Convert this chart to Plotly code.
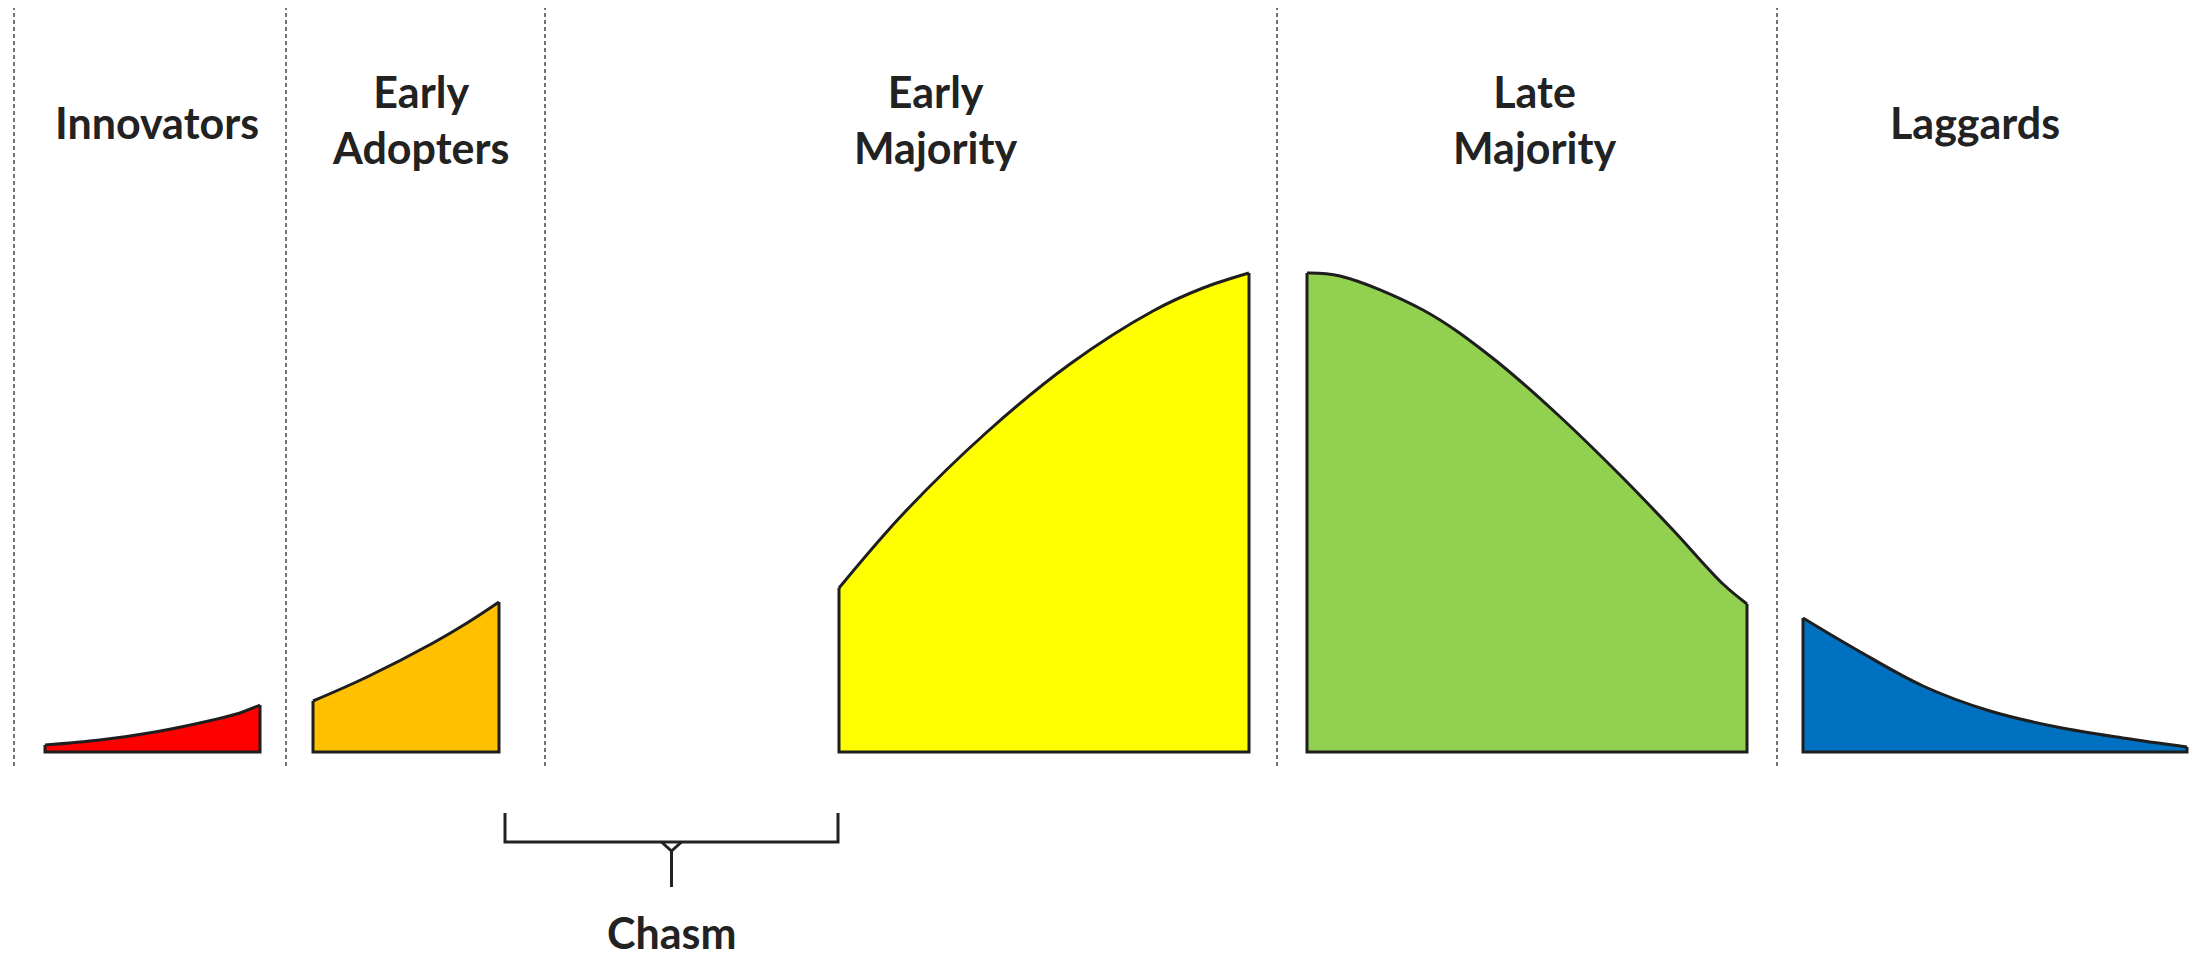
import plotly.graph_objects as go

# ---- data (x: horizontal position, y: curve height above the baseline) ----
categories = ["Innovators", "Early<br>Adopters", "Early<br>Majority", "Late<br>Majority", "Laggards"]
label_x = [157, 420, 935, 1534, 1975]
label_y = [630, 633, 633, 633, 630]

innovators_x = [45, 100, 155, 213, 240, 260]
innovators_y = [7, 12, 20, 32, 39, 47]

early_adopters_x = [313, 367, 433, 467, 499]
early_adopters_y = [51, 75, 109, 129, 150]

early_majority_x = [839, 903, 987, 1070, 1153, 1203, 1249]
early_majority_y = [164, 238, 320, 388, 441, 464, 479]

late_majority_x = [1307, 1340, 1423, 1490, 1557, 1623, 1673, 1723, 1747]
late_majority_y = [479, 476, 442, 396, 338, 274, 222, 168, 148]

laggards_x = [1803, 1857, 1923, 1990, 2057, 2123, 2187]
laggards_y = [134, 102, 66, 41, 25, 14, 5]

colors = ["#FF0000", "#FFC000", "#FFFF00", "#92D050", "#0070C0"]

divider_x = [14, 286, 545, 1277, 1777]
divider_top, divider_bottom = 744, -14

chasm_left, chasm_right = 505, 838
chasm_label = "Chasm"

W, H = 2201, 959
BASE = 752  # pixel row of the baseline

series = [
    (innovators_x, innovators_y),
    (early_adopters_x, early_adopters_y),
    (early_majority_x, early_majority_y),
    (late_majority_x, late_majority_y),
    (laggards_x, laggards_y),
]

fig = go.Figure()
OUT = "#1e1e1e"

for (xs, ys), col in zip(series, colors):
    # curved top, filled down to the baseline
    fig.add_trace(go.Scatter(
        x=xs, y=ys, mode="lines", fill="tozeroy", fillcolor=col,
        line=dict(color=OUT, width=3, shape="spline", smoothing=1),
        hoverinfo="skip", showlegend=False))
    # straight sides and bottom
    fig.add_trace(go.Scatter(
        x=[xs[-1], xs[-1], xs[0], xs[0]], y=[ys[-1], 0, 0, ys[0]],
        mode="lines", line=dict(color=OUT, width=3),
        hoverinfo="skip", showlegend=False))

# dashed dividers
for xv in divider_x:
    fig.add_shape(type="line", x0=xv, x1=xv, y0=divider_bottom, y1=divider_top,
                  line=dict(color="#737373", width=2, dash="4px,3px"), layer="below")

# chasm bracket
mid = (chasm_left + chasm_right) / 2
br_top, br_line, br_stem = -61, -90, -135
fig.add_trace(go.Scatter(
    x=[chasm_left, chasm_left, chasm_right, chasm_right],
    y=[br_top, br_line, br_line, br_top],
    mode="lines", line=dict(color="#222222", width=3),
    hoverinfo="skip", showlegend=False))
fig.add_trace(go.Scatter(
    x=[mid - 10, mid, mid + 10, None, mid, mid],
    y=[br_line, br_line - 9, br_line, None, br_line - 9, br_stem],
    mode="lines", line=dict(color="#222222", width=3),
    hoverinfo="skip", showlegend=False))

FONT = dict(family="Lato, 'Open Sans', sans-serif", size=43, color="#222222")
for txt, xv, yv in zip(categories, label_x, label_y):
    fig.add_annotation(x=xv, y=yv, text="<b>" + txt + "</b>", showarrow=False,
                       xanchor="center", yanchor="middle", font=FONT)
fig.add_annotation(x=mid, y=0, yref="paper", text="<b>" + chasm_label + "</b>", showarrow=False,
                   xanchor="center", yanchor="bottom", borderpad=0, font=FONT)

fig.update_layout(
    width=W, height=H, margin=dict(l=0, r=0, t=0, b=0),
    paper_bgcolor="white", plot_bgcolor="white",
    xaxis=dict(range=[0, W], visible=False, fixedrange=True),
    yaxis=dict(range=[BASE - H, BASE], visible=False, fixedrange=True),
    showlegend=False,
)

fig.write_html("out.html", config={"displayModeBar": False},
               post_script="document.body.style.margin='0';document.body.style.overflow='hidden';")
